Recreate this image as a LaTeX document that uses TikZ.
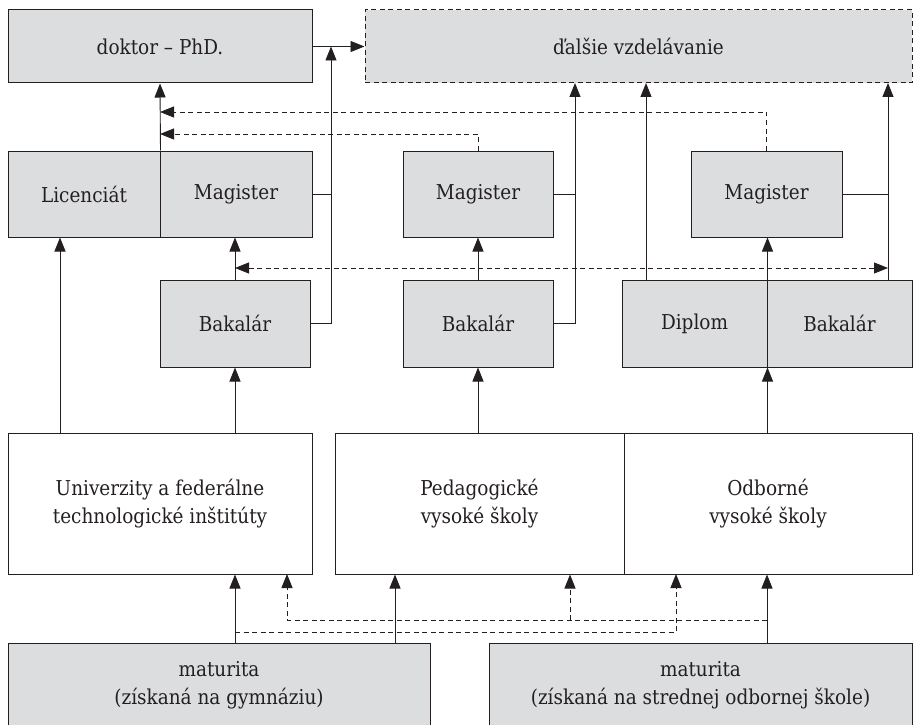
\documentclass[tikz,border=0pt]{standalone}
\usepackage{fontspec}
\setmainfont{DejaVu Serif Condensed}
\usetikzlibrary{arrows.meta}
\definecolor{boxgray}{RGB}{220,221,223}
\definecolor{ink}{RGB}{35,31,32}
\begin{document}
\begin{tikzpicture}[x=1pt,y=-1pt,
  every node/.style={font=\fontsize{20.5}{28}\selectfont, text=ink},
  gbox/.style={draw=ink, line width=1pt, fill=boxgray, inner sep=0pt, align=center},
  wbox/.style={draw=ink, line width=1pt, fill=white, inner sep=0pt, align=center},
  conn/.style={draw=ink, line width=0.9pt},
  arr/.style={conn, -{Triangle[length=14pt,width=11pt]}},
  darr/.style={conn, dash pattern=on 5pt off 3.5pt, -{Triangle[length=14pt,width=11pt]}},
  dline/.style={conn, dash pattern=on 5pt off 3.5pt}
]
\useasboundingbox (0,0) rectangle (914,725);
\clip (0,0) rectangle (914,725);
% row 1
\node[gbox, minimum width=304pt, minimum height=73pt] (dok) at (160,46.5) {doktor – PhD.};
\node[gbox, dash pattern=on 5pt off 3.5pt, minimum width=547pt, minimum height=73pt] (dal) at (638.5,46.5) {ďalšie vzdelávanie};
% row 2
\node[gbox, minimum width=152pt, minimum height=86pt] (lic) at (84,194) {Licenciát};
\node[gbox, minimum width=152pt, minimum height=86pt] (mag1) at (236,194) {Magister};
\node[gbox, minimum width=150pt, minimum height=86pt] (mag2) at (478,194) {Magister};
\node[gbox, minimum width=151pt, minimum height=86pt] (mag3) at (766.5,194) {Magister};
% row 3
\node[gbox, minimum width=150pt, minimum height=87pt] (bak1) at (235,323.5) {Bakalár};
\node[gbox, minimum width=150pt, minimum height=87pt] (bak2) at (478,323.5) {Bakalár};
\node[gbox, minimum width=145pt, minimum height=87pt] (dip) at (694.5,323.5) {Diplom};
\node[gbox, minimum width=145pt, minimum height=87pt] (bak3) at (839.5,323.5) {Bakalár};
% row 4
\node[wbox, minimum width=304pt, minimum height=141pt] (univ) at (160,503.5) {Univerzity a federálne\\technologické inštitúty};
\node[wbox, minimum width=289pt, minimum height=141pt] (ped) at (479.5,503.5) {Pedagogické\\vysoké školy};
\node[wbox, minimum width=288pt, minimum height=141pt] (odb) at (768,503.5) {Odborné\\vysoké školy};
% row 5
\node[gbox, minimum width=422pt, minimum height=84pt] (mat1) at (219,685) {maturita\\(získaná na gymnáziu)};
\node[gbox, minimum width=423pt, minimum height=84pt] (mat2) at (700.5,685) {maturita\\(získaná na strednej odbornej škole)};

% helper coordinates
\coordinate (j1) at (331,46.5);
\coordinate (t2) at (575,83);
\coordinate (t3) at (646,83);
\coordinate (t4) at (888,83);
\coordinate (d1) at (160,112);
\coordinate (d2) at (160,134);
\coordinate (a1) at (235,268);
\coordinate (a2) at (888,268);
\coordinate (u1) at (60,433);
\coordinate (p1) at (395,643);
\coordinate (e1) at (235,632);
\coordinate (e2) at (676,574);
\coordinate (f1) at (767,620);
\coordinate (f2) at (287,574);
\coordinate (f3) at (570,620);

% top connectors
\draw[arr] (dok.east) -- (dal.west);
\draw[arr] (bak1.east) -| (j1);
\draw[conn] (mag1.east) -- (mag1.east -| j1);
\draw[arr] (lic.north east) -- (dok.south);
\draw[darr] (mag3.north) |- (d1);
\draw[darr] (mag2.north) |- (d2);
\draw[arr] (bak2.east) -| (t2);
\draw[conn] (mag2.east) -- (mag2.east -| t2);
\draw[arr] (t3 |- dip.north) -- (t3);
\draw[arr] (t4 |- bak3.north) -- (t4);
\draw[conn] (mag3.east) -- (mag3.east -| t4);
\draw[arr] (dip.north east) -- (dip.north east |- mag3.south);
\draw[arr] (bak1.north) -- (bak1.north |- mag1.south);
\draw[arr] (bak2.north) -- (mag2.south);
\draw[dline, {Triangle[length=14pt,width=11pt]}-{Triangle[length=14pt,width=11pt]}] (a1) -- (a2);
% middle connectors
\draw[arr] (u1) -- (u1 |- lic.south);
\draw[arr] (bak1.south |- univ.north) -- (bak1.south);
\draw[arr] (bak2.south |- ped.north) -- (bak2.south);
\draw[arr] (dip.south east |- odb.north) -- (dip.south east);
% bottom connectors
\draw[arr] (bak1.south |- mat1.north) -- (bak1.south |- univ.south);
\draw[arr] (p1) -- (p1 |- ped.south);
\draw[arr] (f1 |- mat2.north) -- (f1 |- odb.south);
\draw[darr] (e1) -| (e2);
\draw[darr] (f1) -| (f2);
\draw[darr] (f3) -- (f3 |- ped.south);
\end{tikzpicture}
\end{document}
